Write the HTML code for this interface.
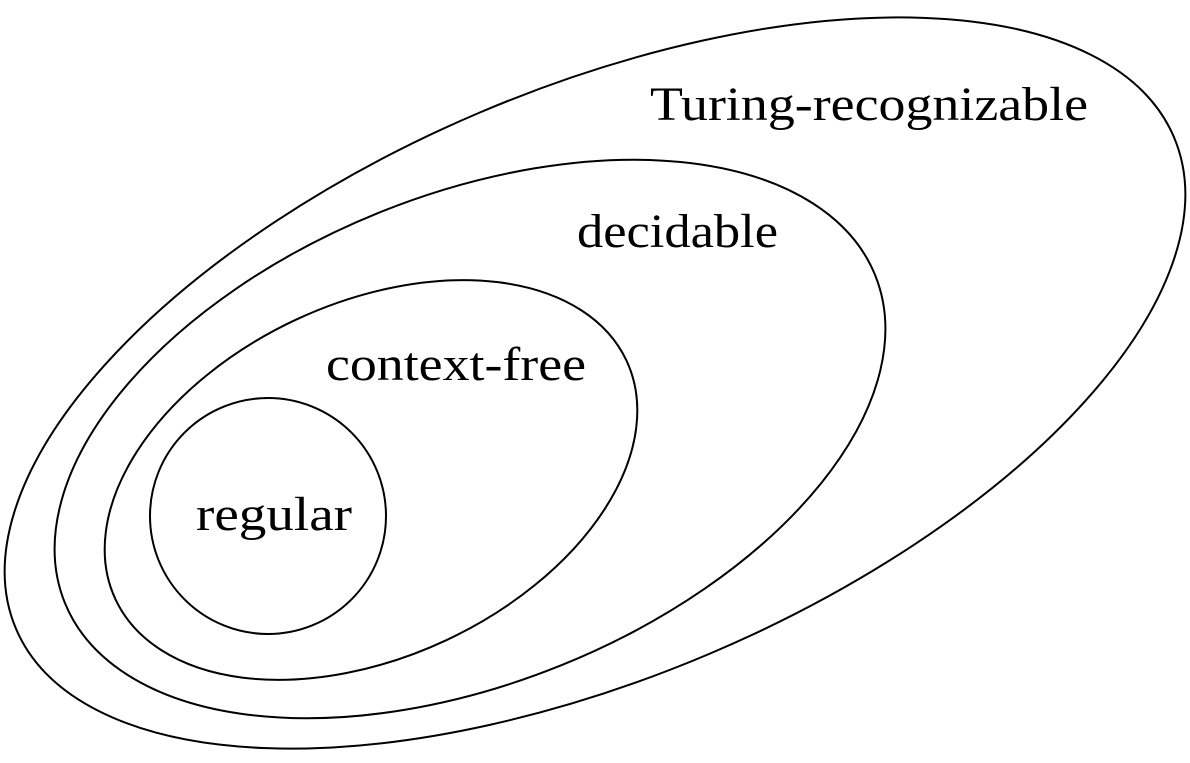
<!DOCTYPE html>
<html><head><style>html,body{margin:0;padding:0;background:#fff;overflow:hidden}svg{display:block}</style></head>
<body>
<svg width="1190" height="763" viewBox="0 0 1190 763" xmlns="http://www.w3.org/2000/svg">
<g fill="none" stroke="#000" stroke-width="2">
<ellipse cx="595" cy="383" rx="629" ry="294" transform="rotate(-23 595 383)"/>
<ellipse cx="470" cy="439" rx="437" ry="244" transform="rotate(-22 470 439)"/>
<ellipse cx="371" cy="480" rx="282" ry="177" transform="rotate(-25 371 480)"/>
<circle cx="268" cy="516" r="118"/>
</g>
<g font-family="Liberation Serif, serif" font-size="48" fill="#000">
<text x="650" y="120" textLength="438" lengthAdjust="spacingAndGlyphs">Turing-recognizable</text>
<text x="577" y="247" textLength="201" lengthAdjust="spacingAndGlyphs">decidable</text>
<text x="326" y="380" textLength="260" lengthAdjust="spacingAndGlyphs">context-free</text>
<text x="196" y="530" textLength="156" lengthAdjust="spacingAndGlyphs">regular</text>
</g>
</svg>
</body></html>
